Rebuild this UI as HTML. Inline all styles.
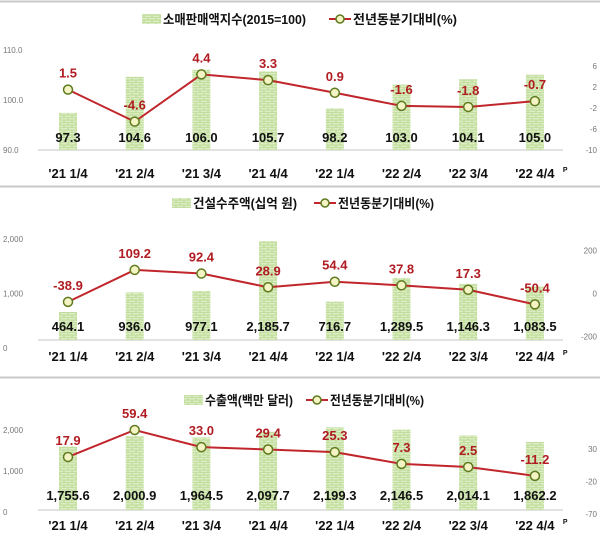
<!DOCTYPE html>
<html><head><meta charset="utf-8">
<style>
html,body{margin:0;padding:0;background:#fff;}
svg{display:block;font-family:"Liberation Sans","Noto Sans CJK KR",sans-serif;}
</style></head>
<body>
<svg id="chart" width="600" height="541" viewBox="0 0 600 541">
<defs>
<pattern id="brick" width="8" height="5" patternUnits="userSpaceOnUse">
<rect width="8" height="5" fill="#b9d98f"/>
<rect x="0.5" y="0.5" width="7" height="1.8" fill="#dcedc6"/>
<rect x="-3.5" y="3" width="7" height="1.6" fill="#dcedc6"/>
<rect x="4.5" y="3" width="7" height="1.6" fill="#dcedc6"/>
</pattern>
</defs>
<line x1="0" y1="1.5" x2="600" y2="1.5" stroke="#c8c8c8" stroke-width="2"/>
<line x1="0" y1="186.5" x2="600" y2="186.5" stroke="#c8c8c8" stroke-width="2"/>
<line x1="0" y1="377.5" x2="600" y2="377.5" stroke="#c8c8c8" stroke-width="2"/>
</svg>
<script>
const categories = ["'21 1/4","'21 2/4","'21 3/4","'21 4/4","'22 1/4","'22 2/4","'22 3/4","'22 4/4"];

const retailValues = [97.3,104.6,106.0,105.7,98.2,103.0,104.1,105.0];
const retailYoY = [1.5,-4.6,4.4,3.3,0.9,-1.6,-1.8,-0.7];
const retailLeftTicks = [90,100,110];
const retailLeftLabels = ["90.0","100.0","110.0"];
const retailRightTicks = [-10,-6,-2,2,6];

const constrValues = [464.1,936.0,977.1,2185.7,716.7,1289.5,1146.3,1083.5];
const constrYoY = [-38.9,109.2,92.4,28.9,54.4,37.8,17.3,-50.4];
const constrLeftTicks = [0,1000,2000];
const constrLeftLabels = ["0","1,000","2,000"];
const constrRightTicks = [-200,0,200];

const exportValues = [1755.6,2000.9,1964.5,2097.7,2199.3,2146.5,2014.1,1862.2];
const exportYoY = [17.9,59.4,33.0,29.4,25.3,7.3,2.5,-11.2];
const exportLeftTicks = [0,1000,2000];
const exportLeftLabels = ["0","1,000","2,000"];
const exportRightTicks = [-70,-20,30];

const NS = "http://www.w3.org/2000/svg";
const svg = document.getElementById('chart');
function mk(tag, attrs, parent){
  const e = document.createElementNS(NS, tag);
  for (const k in attrs) e.setAttribute(k, attrs[k]);
  (parent||svg).appendChild(e);
  return e;
}
function lin(d0,d1,r0,r1){ return v => r0 + (v-d0)*(r1-r0)/(d1-d0); }
const xScale = i => 68 + i*66.7;

function panel(cfg){
  const g = mk('g',{});
  
  
  const lg = mk('g',{},g);
  
  
  const sw = mk('rect',{x:cfg.leg[0],y:cfg.legY-5,width:19,height:10,fill:'url(#brick)'},lg);
  
  
  const t1 = mk('text',{x:cfg.leg[0]+21,y:cfg.legY+5,'font-size':13,'font-weight':'bold',fill:'#111',textLength:cfg.leg[1],lengthAdjust:'spacingAndGlyphs'},lg);
  t1.textContent = cfg.barLabel;
  
  
  const ll = mk('line',{x1:cfg.leg[2],y1:cfg.legY,x2:cfg.leg[2]+22,y2:cfg.legY,stroke:'#c0262b','stroke-width':2},lg);
  
  
  const lc = mk('circle',{cx:cfg.leg[2]+11,cy:cfg.legY,r:4,fill:'#f4f3c4',stroke:'#5e7a1e','stroke-width':1.5},lg);
  
  
  const t2 = mk('text',{x:cfg.leg[2]+24,y:cfg.legY+5,'font-size':13,'font-weight':'bold',fill:'#111',textLength:cfg.leg[3],lengthAdjust:'spacingAndGlyphs'},lg);
  t2.textContent = '전년동분기대비(%)';
  
  

  const bl = mk('line',{x1:38,y1:cfg.base,x2:563,y2:cfg.base,stroke:'#d9d9d9','stroke-width':1.5},g);
  
  

  cfg.leftTicks.forEach((v,i)=>{
    const t = mk('text',{x:3,y:cfg.tickY(v)+3,'font-size':8,fill:'#777'},g);
    t.textContent = cfg.leftLabels[i];
    
    
  });
  cfg.rightTicks.forEach(v=>{
    const t = mk('text',{x:597,y:cfg.yR(v)+3,'font-size':8,fill:'#777','text-anchor':'end'},g);
    t.textContent = String(v);
    
    
  });

  cfg.values.forEach((v,i)=>{
    const top = cfg.yL(v);
    const b = mk('rect',{x:xScale(i)-9,y:top,width:18,height:cfg.base-top,fill:'url(#brick)'},g);
    
    
    const t = mk('text',{x:xScale(i),y:cfg.valY,'font-size':13,'font-weight':'bold',fill:'#111','text-anchor':'middle'},g);
    t.textContent = v.toLocaleString('en-US',{minimumFractionDigits:1,maximumFractionDigits:1});
    
    
  });

  const pts = cfg.yoy.map((v,i)=>xScale(i)+','+cfg.yR(v)).join(' ');
  const pl = mk('polyline',{points:pts,fill:'none',stroke:'#c0262b','stroke-width':2},g);
  
  
  cfg.yoy.forEach((v,i)=>{
    const c = mk('circle',{cx:xScale(i),cy:cfg.yR(v),r:4.5,fill:'#f4f3c4',stroke:'#5e7a1e','stroke-width':1.5},g);
    
    
    const t = mk('text',{x:xScale(i),y:cfg.yR(v)-12,'font-size':13,'font-weight':'bold',fill:'#b01c22','text-anchor':'middle'},g);
    t.textContent = v.toFixed(1);
    
    
  });

  categories.forEach((c,i)=>{
    const t = mk('text',{x:xScale(i),y:cfg.xLabY,'font-size':13,'font-weight':'bold',fill:'#111','text-anchor':'middle'},g);
    t.textContent = c;
    
    
  });
  const p = mk('text',{x:xScale(7)+28,y:cfg.xLabY-6,'font-size':7,'font-weight':'bold',fill:'#111'},g);
  p.textContent = 'P';
  
  
}

panel({name:'retail-sales-panel',barLabel:'소매판매액지수(2015=100)',legY:19,leg:[142,143,329,104],
  base:150,valY:142,xLabY:178,
  yL:lin(90,110,149,50),tickY:lin(90,110,150,50),yR:lin(-10,6,150,66),
  values:retailValues,yoy:retailYoY,leftTicks:retailLeftTicks,leftLabels:retailLeftLabels,rightTicks:retailRightTicks});

panel({name:'construction-orders-panel',barLabel:'건설수주액(십억 원)',legY:203,leg:[172,104,314,96],
  base:340,valY:331,xLabY:361,
  yL:lin(464.1,2185.7,312,241),tickY:lin(0,2000,348,239),yR:lin(0,200,293.5,250.3),
  values:constrValues,yoy:constrYoY,leftTicks:constrLeftTicks,leftLabels:constrLeftLabels,rightTicks:constrRightTicks});

panel({name:'exports-panel',barLabel:'수출액(백만 달러)',legY:400,leg:[184,88,306,94],
  base:510,valY:500,xLabY:530,
  yL:lin(0,2000,522,436),tickY:lin(0,2000,512,430),yR:lin(0,50,468.6,436.1),
  values:exportValues,yoy:exportYoY,leftTicks:exportLeftTicks,leftLabels:exportLeftLabels,rightTicks:exportRightTicks});
</script>
</body></html>
